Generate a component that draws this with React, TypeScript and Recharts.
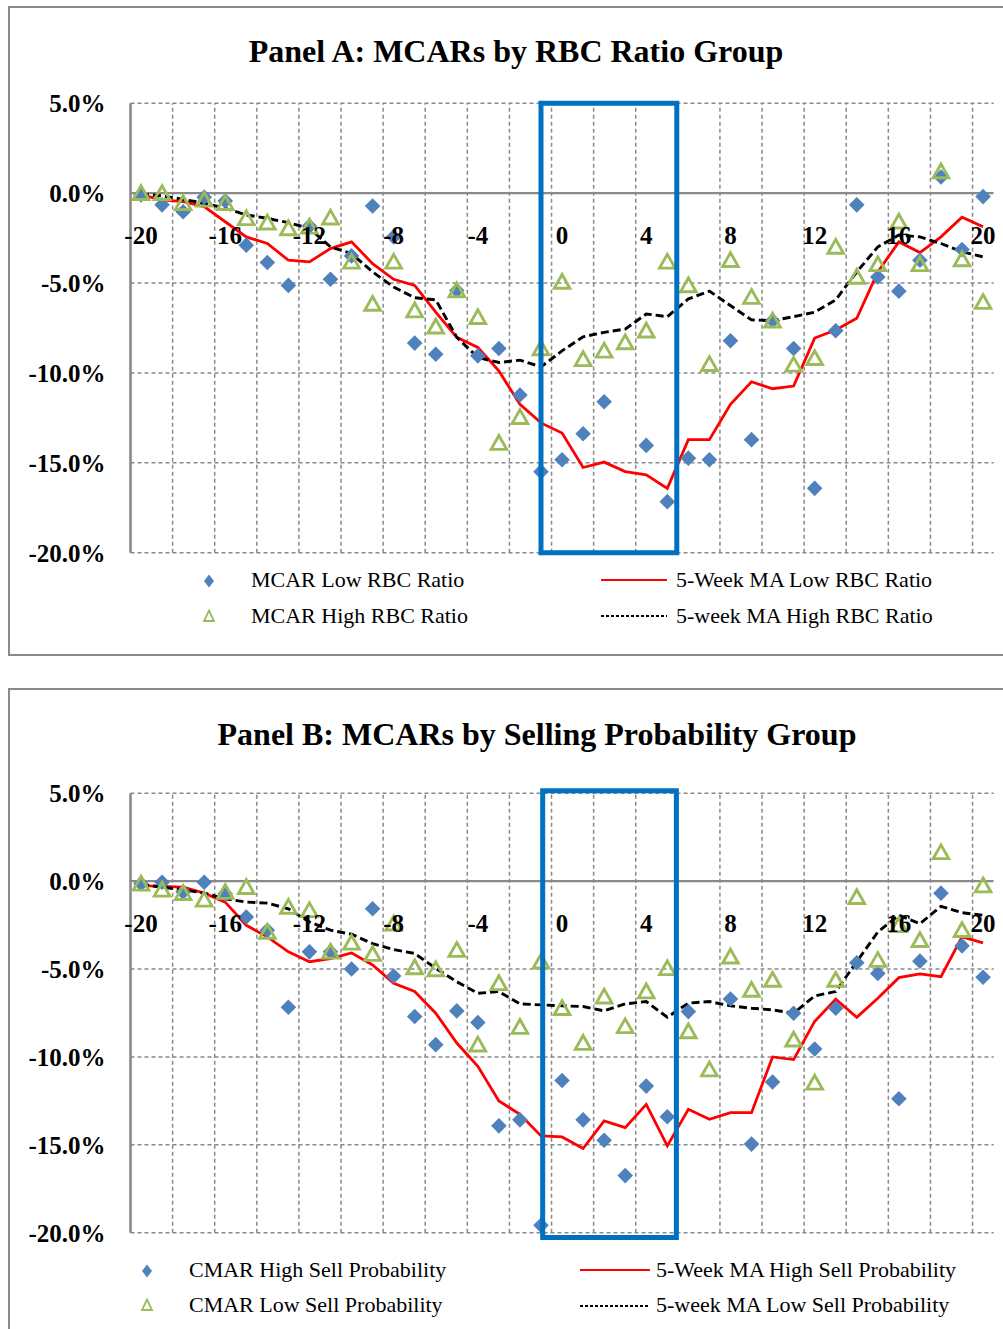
import React from 'react';
import {
  ComposedChart,
  Line,
  XAxis,
  YAxis,
  ReferenceLine,
  ReferenceArea,
  ReferenceDot,
} from 'recharts';

const FONT = "'Liberation Serif', 'Times New Roman', Times, serif";
const GRID = '#8a8a8a';
const BLUE_PT = '#4F81BD';
const GREEN_PT = '#9BBB59';
const BOX_BLUE = '#0070C0';

// categories: event weeks
const WEEKS = [-20, -19, -18, -17, -16, -15, -14, -13, -12, -11, -10, -9, -8, -7, -6, -5, -4, -3, -2, -1, 0,
  1, 2, 3, 4, 5, 6, 7, 8, 9, 10, 11, 12, 13, 14, 15, 16, 17, 18, 19, 20];
const X_LABELS = [-20, -16, -12, -8, -4, 0, 4, 8, 12, 16, 20];
const Y_TICKS = [5, 0, -5, -10, -15, -20];
const V_GRID = [-18.5, -16.5, -14.5, -12.5, -10.5, -8.5, -6.5, -4.5, -2.5, -0.5, 1.5, 3.5, 5.5, 7.5, 9.5, 11.5, 13.5, 15.5, 17.5, 19.5];
const H_GRID = [5, -5, -10, -15, -20];

// Panel A (values in %)
const mcarLowRbc = [-0.1, -0.65, -1.03, -0.22, -0.43, -2.89, -3.86, -5.13, -1.83, -4.79, -3.49, -0.71, -2.43, -8.34, -8.96, -5.41, -9.05, -8.64, -11.23, -15.49, -14.83,
  -13.38, -11.6, null, -14.03, -17.16, -14.74, -14.83, -8.21, -13.71, -7.09, -8.64, -16.42, -7.65, -0.65, -4.66, -5.45, -3.73, 0.9, -3.13, -0.19];
const mcarHighRbc = [0.0, 0.0, -0.56, -0.37, -0.56, -1.4, -1.64, -1.96, -1.87, -1.36, -3.82, -6.16, -3.82, -6.53, -7.43, -5.41, -6.9, -13.9, -12.46, -8.64, -4.94,
  -9.24, -8.77, -8.3, -7.65, -3.82, -5.13, -9.51, -3.73, -5.78, -7.09, -9.55, -9.18, -2.99, -4.66, -3.96, -1.59, -3.96, 1.21, -3.69, -6.06];
const maLowRbc = [-0.09, -0.37, -0.47, -0.75, -1.59, -2.43, -2.8, -3.73, -3.82, -3.08, -2.71, -3.92, -4.79, -5.13, -6.62, -8.02, -8.58, -9.89, -11.75, -12.78, -13.34,
  -15.26, -14.96, -15.49, -15.67, -16.42, -13.71, -13.71, -11.75, -10.49, -10.88, -10.73, -8.06, -7.61, -6.96, -4.38, -2.71, -3.3, -2.43, -1.34, -1.87];
const maHighRbc = [-0.04, -0.15, -0.34, -0.56, -0.84, -1.21, -1.4, -1.64, -1.96, -2.99, -3.36, -4.38, -5.22, -5.82, -5.93, -8.02, -9.14, -9.42, -9.29, -9.66, -8.77,
  -7.99, -7.74, -7.56, -6.72, -6.87, -5.88, -5.45, -6.25, -7.05, -7.09, -6.87, -6.62, -5.93, -4.38, -2.99, -2.33, -2.43, -2.8, -3.26, -3.54];

// Panel B (values in %)
const cmarHighSell = [-0.15, -0.06, -0.62, -0.06, -0.72, -2.04, -2.79, -7.17, -4.02, -4.02, -5.0, -1.57, -5.4, -7.7, -9.3, -7.38, -8.04, -13.92, -13.58, -19.58, -11.34,
  -13.58, -14.74, -16.75, -11.66, -13.4, -7.42, null, -6.7, -14.96, -11.43, -7.51, -9.55, -7.23, -4.64, -5.25, -12.38, -4.55, -0.68, -3.68, -5.47];
const cmarLowSell = [-0.15, -0.49, -0.68, -1.06, -0.62, -0.34, -2.89, -1.47, -1.66, -4.02, -3.51, -4.15, -2.42, -4.91, -5.02, -3.92, -9.3, -5.81, -8.3, -4.58, -7.23,
  -9.21, -6.57, -8.26, -6.28, -4.96, -8.55, -10.72, -4.3, -6.19, -5.62, -9.02, -11.47, -5.62, -0.91, -4.49, -2.51, -3.36, 1.64, -2.79, -0.25];
const maHighSell = [-0.25, -0.3, -0.34, -0.68, -1.19, -2.51, -3.17, -4.02, -4.58, -4.4, -4.08, -4.77, -5.81, -6.28, -7.51, -9.21, -10.53, -12.51, -13.26, -14.49, -14.55,
  -15.21, -13.64, -14.02, -12.7, -15.06, -12.98, -13.55, -13.17, -13.17, -10.0, -10.15, -7.98, -6.72, -7.75, -6.66, -5.49, -5.28, -5.43, -3.17, -3.51];
const maLowSell = [-0.19, -0.34, -0.49, -0.68, -1.0, -1.19, -1.25, -1.57, -2.32, -2.79, -3.02, -3.55, -3.89, -4.11, -4.96, -5.72, -6.38, -6.28, -6.98, -7.04, -7.09,
  -7.13, -7.38, -6.98, -6.85, -7.74, -6.94, -6.85, -7.09, -7.23, -7.32, -7.51, -6.53, -6.28, -4.58, -2.89, -1.94, -2.42, -1.43, -1.79, -1.94];

// highlight windows (event window boxes)
const BOX_A = { x1: -1, x2: 5.45, y1: -20, y2: 5 };
const BOX_B = { x1: -0.92, x2: 5.43, y1: -20.27, y2: 5.14 };

const diamondDot = (p: any) => {
  const { cx, cy, value, index } = p;
  if (cx == null || cy == null || value == null || isNaN(cy)) return <g key={'d' + index} />;
  const s = 7.8;
  return (
    <polygon
      key={'d' + index}
      points={`${cx},${cy - s} ${cx + s},${cy} ${cx},${cy + s} ${cx - s},${cy}`}
      fill={BLUE_PT}
    />
  );
};

const triangleDot = (p: any) => {
  const { cx, cy, value, index } = p;
  if (cx == null || cy == null || value == null || isNaN(cy)) return <g key={'t' + index} />;
  return (
    <polygon
      key={'t' + index}
      points={`${cx},${cy - 7.5} ${cx + 7.8},${cy + 6.3} ${cx - 7.8},${cy + 6.3}`}
      fill="none"
      stroke={GREEN_PT}
      strokeWidth={2.9}
    />
  );
};

type PanelProps = {
  pts1: (number | null)[];
  pts2: (number | null)[];
  ma1: (number | null)[];
  ma2: (number | null)[];
  box: { x1: number; x2: number; y1: number; y2: number };
  height: number;
};

function PanelChart({ pts1, pts2, ma1, ma2, box, height }: PanelProps) {
  const data = WEEKS.map((w, i) => ({ week: w, p1: pts1[i], p2: pts2[i], m1: ma1[i], m2: ma2[i] }));
  return (
    <ComposedChart
      width={1003}
      height={height}
      data={data}
      margin={{ top: 103.3, right: 9.4, bottom: 27.3, left: 20.5 }}
    >
      <XAxis dataKey="week" type="number" domain={[-20.5, 20.5]} allowDataOverflow hide />
      <YAxis
        type="number"
        domain={[-20, 5]}
        ticks={Y_TICKS}
        allowDataOverflow
        interval={0}
        width={110}
        axisLine={{ stroke: GRID, strokeWidth: 2.6 }}
        tickLine={false}
        tickSize={0}
        tickMargin={25}
        tick={{ fill: '#000', fontSize: 25, fontWeight: 700, fontFamily: FONT }}
        tickFormatter={(v: number) => v.toFixed(1) + '%'}
      />
      {V_GRID.map((x) => (
        <ReferenceLine key={'v' + x} x={x} stroke={GRID} strokeWidth={1.5} strokeDasharray="4 3" />
      ))}
      {H_GRID.map((y) => (
        <ReferenceLine key={'h' + y} y={y} stroke={GRID} strokeWidth={1.5} strokeDasharray="4 3" />
      ))}
      <ReferenceLine y={0} stroke={GRID} strokeWidth={2.3} />
      {X_LABELS.map((x) => (
        <ReferenceDot
          key={'l' + x}
          x={x}
          y={0}
          r={0}
          fill="none"
          stroke="none"
          label={{
            value: String(x),
            position: 'bottom',
            offset: 33,
            fill: '#000',
            fontSize: 25,
            fontWeight: 700,
            fontFamily: FONT,
          }}
        />
      ))}
      <Line dataKey="p1" stroke="none" dot={diamondDot} activeDot={false} legendType="none" isAnimationActive={false} />
      <Line dataKey="p2" stroke="none" dot={triangleDot} activeDot={false} legendType="none" isAnimationActive={false} />
      <Line dataKey="m1" type="linear" stroke="#FF0000" strokeWidth={2.8} dot={false} activeDot={false} isAnimationActive={false} />
      <Line dataKey="m2" type="linear" stroke="#000000" strokeWidth={2.9} strokeDasharray="8 4" dot={false} activeDot={false} isAnimationActive={false} />
      <ReferenceArea
        x1={box.x1}
        x2={box.x2}
        y1={box.y1}
        y2={box.y2}
        fill="none"
        fillOpacity={0}
        stroke={BOX_BLUE}
        strokeWidth={5}
        ifOverflow="visible"
        {...({ zIndex: 1000 } as any)}
      />
    </ComposedChart>
  );
}

const textStyle = (left: number, cy: number, size: number, bold = false): React.CSSProperties => ({
  position: 'absolute',
  left,
  top: cy - size * 0.62,
  fontSize: size,
  lineHeight: `${Math.round(size * 1.2)}px`,
  fontFamily: FONT,
  fontWeight: bold ? 700 : 400,
  whiteSpace: 'nowrap',
  color: '#000',
});

function LegendDiamond({ cx, cy }: { cx: number; cy: number }) {
  return (
    <svg style={{ position: 'absolute', left: cx - 8, top: cy - 8 }} width={16} height={16}>
      <polygon points="8,1.5 13,8 8,14.5 3,8" fill={BLUE_PT} />
    </svg>
  );
}

function LegendTriangle({ cx, cy }: { cx: number; cy: number }) {
  return (
    <svg style={{ position: 'absolute', left: cx - 8, top: cy - 8 }} width={16} height={16}>
      <polygon points="8,2.5 13,13 3,13" fill="none" stroke={GREEN_PT} strokeWidth={1.8} />
    </svg>
  );
}

function LegendLine({ x1, x2, cy, dashed }: { x1: number; x2: number; cy: number; dashed?: boolean }) {
  return (
    <svg style={{ position: 'absolute', left: x1, top: cy - 4 }} width={x2 - x1} height={8}>
      <line
        x1={0}
        x2={x2 - x1}
        y1={4}
        y2={4}
        stroke={dashed ? '#000' : '#FF0000'}
        strokeWidth={dashed ? 1.8 : 2.2}
        strokeDasharray={dashed ? '3 2' : undefined}
      />
    </svg>
  );
}

export default function App() {
  return (
    <div style={{ position: 'relative', width: 1003, height: 1329, overflow: 'hidden', background: '#fff' }}>
      <style>{'body{margin:0;overflow:hidden;}'}</style>
      {/* panel frames */}
      <div
        style={{
          position: 'absolute',
          left: 8,
          top: 6,
          width: 1010,
          height: 650,
          border: `2px solid ${GRID}`,
          boxSizing: 'border-box',
        }}
      />
      <div
        style={{
          position: 'absolute',
          left: 8,
          top: 688,
          width: 1010,
          height: 700,
          border: `2px solid ${GRID}`,
          boxSizing: 'border-box',
        }}
      />

      {/* Panel A */}
      <div style={{ position: 'absolute', left: 0, top: 0 }}>
        <PanelChart pts1={mcarLowRbc} pts2={mcarHighRbc} ma1={maLowRbc} ma2={maHighRbc} box={BOX_A} height={580} />
      </div>
      <div style={{ ...textStyle(116, 52, 32, true), width: 800, textAlign: 'center' }}>
        Panel A: MCARs by RBC Ratio Group
      </div>
      <LegendDiamond cx={209} cy={581} />
      <div style={textStyle(251, 581, 22)}>MCAR Low RBC Ratio</div>
      <LegendTriangle cx={209} cy={616} />
      <div style={textStyle(251, 617, 22)}>MCAR High RBC Ratio</div>
      <LegendLine x1={601} x2={667} cy={580} />
      <div style={textStyle(676, 581, 22)}>5-Week MA Low RBC Ratio</div>
      <LegendLine x1={601} x2={667} cy={616} dashed />
      <div style={textStyle(676, 617, 22)}>5-week MA High RBC Ratio</div>

      {/* Panel B */}
      <div style={{ position: 'absolute', left: 0, top: 690 }}>
        <PanelChart pts1={cmarHighSell} pts2={cmarLowSell} ma1={maHighSell} ma2={maLowSell} box={BOX_B} height={570} />
      </div>
      <div style={{ ...textStyle(137, 735, 32, true), width: 800, textAlign: 'center' }}>
        Panel B: MCARs by Selling Probability Group
      </div>
      <LegendDiamond cx={147} cy={1271} />
      <div style={textStyle(189, 1271, 22)}>CMAR High Sell Probability</div>
      <LegendTriangle cx={147} cy={1305} />
      <div style={textStyle(189, 1306, 22)}>CMAR Low Sell Probability</div>
      <LegendLine x1={580} x2={650} cy={1270} />
      <div style={textStyle(656, 1271, 22)}>5-Week MA High Sell Probability</div>
      <LegendLine x1={580} x2={650} cy={1306} dashed />
      <div style={textStyle(656, 1306, 22)}>5-week MA Low Sell Probability</div>
    </div>
  );
}
